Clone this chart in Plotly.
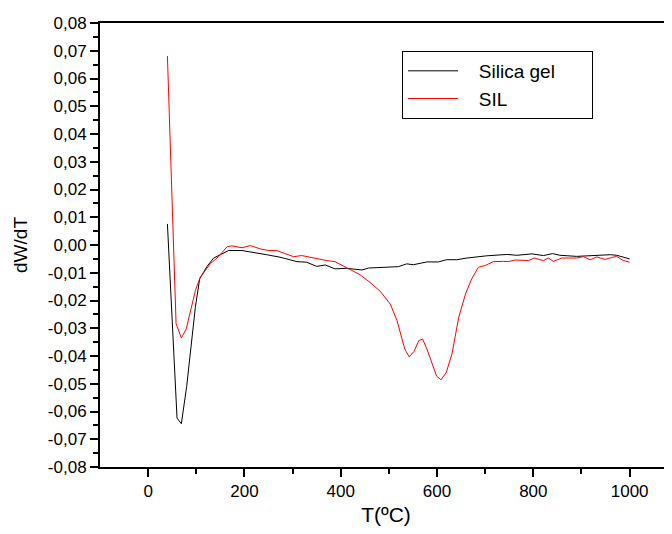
import plotly.graph_objects as go

# Silica gel (black)
t_silica = [40, 60, 69, 80, 98, 107, 122, 136, 150, 167, 195, 219, 246, 274, 309, 329,
            350, 368, 388, 412, 444, 458, 482, 520, 537, 551, 579, 603, 620, 641, 662,
            703, 745, 766, 797, 821, 840, 855, 890, 925, 960, 973, 994, 1000]
dw_silica = [0.0076, -0.0624, -0.0644, -0.051, -0.0225, -0.0122, -0.0078, -0.0047, -0.0035,
             -0.002, -0.002, -0.0026, -0.0035, -0.0044, -0.006, -0.0062, -0.0077, -0.0072,
             -0.0086, -0.0084, -0.009, -0.0083, -0.0081, -0.0078, -0.0068, -0.0071, -0.0061,
             -0.0061, -0.0053, -0.0053, -0.0047, -0.0039, -0.0034, -0.0037, -0.0032, -0.0038,
             -0.0031, -0.0037, -0.0041, -0.0038, -0.0035, -0.0037, -0.0047, -0.005]

# SIL (red)
t_sil = [40, 58, 69, 79, 98, 108, 129, 146, 164, 174, 195, 212, 233, 250, 267, 302, 319,
         343, 371, 388, 412, 440, 461, 482, 503, 517, 533, 542, 552, 562, 570, 579, 599,
         608, 619, 631, 645, 659, 672, 686, 700, 717, 738, 748, 762, 778, 790, 802, 821,
         831, 842, 859, 890, 904, 918, 932, 949, 963, 973, 987, 1000]
dw_sil = [0.0681, -0.0283, -0.0335, -0.0303, -0.0165, -0.0117, -0.0068, -0.0042, -0.0006,
          -0.0003, -0.001, -0.0002, -0.0014, -0.002, -0.002, -0.0042, -0.0038, -0.0047,
          -0.0056, -0.006, -0.0083, -0.0107, -0.0135, -0.0167, -0.0213, -0.0273, -0.0375,
          -0.0403, -0.0384, -0.0345, -0.0339, -0.0375, -0.0472, -0.0486, -0.046, -0.0393,
          -0.0261, -0.0177, -0.0122, -0.008, -0.0074, -0.006, -0.0059, -0.006, -0.0054,
          -0.0056, -0.0056, -0.0047, -0.0056, -0.0047, -0.0059, -0.0047, -0.0047, -0.0042,
          -0.0053, -0.0043, -0.0052, -0.0045, -0.0041, -0.0056, -0.0062]

y_tickvals = [i / 100 for i in range(-8, 9)]
y_ticktext = [f"{v:.2f}".replace(".", ",") for v in y_tickvals]
y_minor = [i / 1000 for i in range(-75, 80, 10)]
x_tickvals = [0, 200, 400, 600, 800, 1000]
x_ticktext = [str(v) for v in x_tickvals]
x_minor = [100, 300, 500, 700, 900]

FONT = "Liberation Sans, Arial, sans-serif"
LEAD = "\u00a0" * 3
PAD = "\u00a0" * 6

fig = go.Figure()
fig.add_trace(go.Scatter(x=t_silica, y=dw_silica, mode="lines", name=LEAD + "Silica gel" + PAD,
                         line=dict(color="black", width=1)))
fig.add_trace(go.Scatter(x=t_sil, y=dw_sil, mode="lines", name=LEAD + "SIL",
                         line=dict(color="#ff0000", width=1)))

fig.update_layout(
    width=664, height=518,
    margin=dict(l=92, r=0, t=15, b=59, autoexpand=False),
    paper_bgcolor="white", plot_bgcolor="white",
    font=dict(family=FONT, color="black", size=17),
    showlegend=True,
    legend=dict(x=0.528, y=0.937, xanchor="left", yanchor="top",
                bordercolor="black", borderwidth=1, bgcolor="white",
                font=dict(size=19, family=FONT), itemwidth=50,
                tracegroupgap=0),
    xaxis=dict(range=[-100, 1088], showgrid=False, zeroline=False, automargin=True,
               showline=True, linecolor="black", linewidth=2, mirror=True,
               ticks="outside", ticklen=8, tickwidth=2, tickcolor="black",
               tickmode="array", tickvals=x_tickvals, ticktext=x_ticktext,
               minor=dict(tickmode="array", tickvals=x_minor, ticks="outside",
                          ticklen=5, tickwidth=2, tickcolor="black", showgrid=False),
               tickfont=dict(size=17),
               title=dict(text="T(ºC)", font=dict(size=21), standoff=20)),
    yaxis=dict(range=[-0.08, 0.08], showgrid=False, zeroline=False, automargin=False,
               showline=True, linecolor="black", linewidth=2,
               ticks="outside", ticklen=8, tickwidth=2, tickcolor="black",
               tickmode="array", tickvals=y_tickvals, ticktext=y_ticktext,
               minor=dict(tickmode="array", tickvals=y_minor, ticks="outside",
                          ticklen=5, tickwidth=2, tickcolor="black", showgrid=False),
               tickfont=dict(size=17),
               title=dict(text="dW/dT", font=dict(size=19))),
)

fig.write_html("out.html")
